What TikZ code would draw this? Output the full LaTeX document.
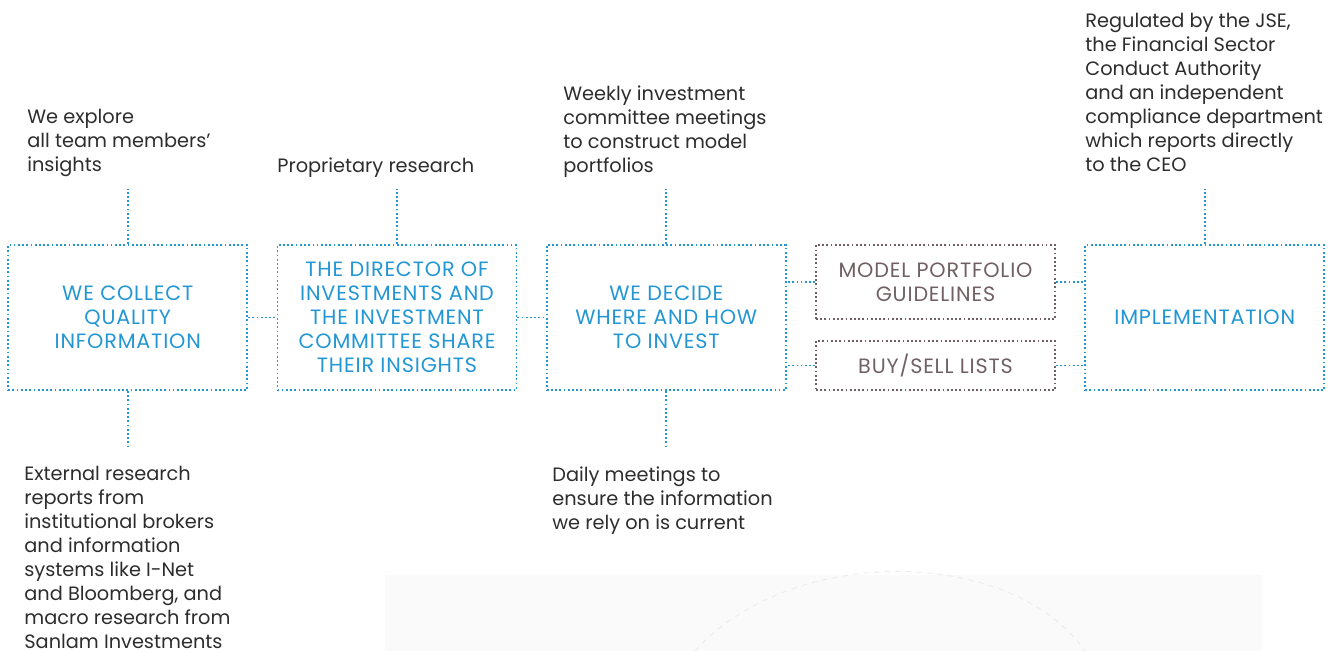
\documentclass[tikz,border=0pt]{standalone}
\usepackage{fontspec}
\setmainfont{Poppins}
\usetikzlibrary{positioning}

\definecolor{flowblue}{RGB}{35,150,212}
\definecolor{flowbrown}{RGB}{112,96,100}
\definecolor{flowtext}{RGB}{45,45,45}

\tikzset{
  dotline/.style={line width=1pt, dash pattern=on 1pt off 1.4pt},
  stage/.style={draw=flowblue, dotline, text=flowblue, minimum width=4.78cm,
    minimum height=2.9cm, align=center, inner sep=2pt,
    font=\fontsize{11.8}{13.66}\selectfont\addfontfeatures{LetterSpace=4}},
  output/.style={stage, draw=flowbrown, text=flowbrown},
  link/.style={draw=flowblue, dotline},
  note/.style={text=flowtext, align=left, inner sep=0pt, anchor=north west,
    font=\fontsize{11}{13.66}\selectfont}
}

\begin{document}
\begin{tikzpicture}[node distance=5.385cm, on grid]
  \useasboundingbox (0,0) rectangle (26.78,-13.02);

  % faint backdrop at the foot
  \fill[black!2] (7.7,-11.5) rectangle (25.24,-13.02);
  \draw[black!7, dashed, line width=0.6pt] (13.9,-13.02) .. controls (15.8,-10.9) and (20.2,-10.9) .. (21.7,-13.02);

  % process boxes
  \node[stage]  (collect) at (2.555,-6.35) {WE COLLECT\\QUALITY\\INFORMATION};
  \node[stage]  (share)   [right=of collect] {THE DIRECTOR OF\\INVESTMENTS AND\\THE INVESTMENT\\COMMITTEE SHARE\\THEIR INSIGHTS};
  \node[stage]  (decide)  [right=of share]   {WE DECIDE\\WHERE AND HOW\\TO INVEST};
  \node[output, minimum height=1.48cm] (model) [right=of decide, yshift=0.71cm]  {MODEL PORTFOLIO\\GUIDELINES};
  \node[output, minimum height=0.98cm] (lists) [right=of decide, yshift=-0.96cm] {BUY/SELL LISTS};
  \node[stage]  (implement) [right=of model, yshift=-0.71cm] {IMPLEMENTATION};

  % notes
  \node[note] (explore) at (0.54,-2.18) {We explore\\all team members’\\insights};
  \node[note] (research) at (5.54,-3.14) {Proprietary research};
  \node[note] (weekly) at (11.26,-1.70) {Weekly investment\\committee meetings\\to construct model\\portfolios};
  \node[note] (regulated) at (21.70,-0.26) {Regulated by the JSE,\\the Financial Sector\\Conduct Authority\\and an independent\\compliance department\\which reports directly\\to the CEO};
  \node[note] (external) at (0.48,-9.32) {External research\\reports from\\institutional brokers\\and information\\systems like I-Net\\and Bloomberg, and\\macro research from\\Sanlam Investments};
  \node[note] (daily) at (11.04,-9.32) {Daily meetings to\\ensure the information\\we rely on is current};

  % links between boxes
  \draw[link] (collect.east) -- (share.west);
  \draw[link] (share.east) -- (decide.west);
  \draw[link] (model.west) -- (model.west -| decide.east);
  \draw[link] (lists.west) -- (lists.west -| decide.east);
  \draw[link] (model.east) -- (model.east -| implement.west);
  \draw[link] (lists.east) -- (lists.east -| implement.west);

  % links to the notes
  \draw[link] (collect.north) -- ++(0,1.1);
  \draw[link] (collect.south) -- ++(0,-1.1);
  \draw[link] (share.north) -- ++(0,1.1);
  \draw[link] (decide.north) -- ++(0,1.1);
  \draw[link] (decide.south) -- ++(0,-1.1);
  \draw[link] (implement.north) -- ++(0,1.1);
\end{tikzpicture}
\end{document}
